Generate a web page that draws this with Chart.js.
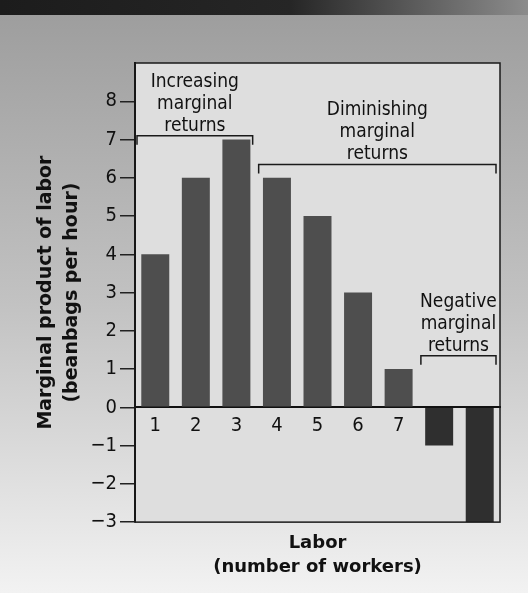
<!DOCTYPE html>
<html>
<head>
<meta charset="utf-8">
<script src="https://cdn.jsdelivr.net/npm/chart.js@4.4.1/dist/chart.umd.min.js"></script>
<style>
html, body { margin: 0; padding: 0; background: #fff; }
#wrap { width: 528px; height: 593px; position: relative; }
</style>
</head>
<body>
<div id="wrap"><canvas id="mplChart"></canvas></div>
<script>
// data
const workers = ['1', '2', '3', '4', '5', '6', '7', '', '']
const marginalProduct = [4, 6, 7, 6, 5, 3, 1, -1, -3]
const yTicks = [-3, -2, -1, 0, 1, 2, 3, 4, 5, 6, 7, 8]

// bracketed groups: text lines, first/last worker index, bracket height (beanbags)
const groupText = [
  ['Increasing', 'marginal', 'returns'],
  ['Diminishing', 'marginal', 'returns'],
  ['Negative', 'marginal', 'returns']
]
const groupFirst = [0, 3, 7]
const groupLast = [2, 8, 8]
const groupLevel = [7.1, 6.35, 1.35]

const narrow = "'Liberation Sans Narrow', 'DejaVu Sans Condensed', 'Liberation Sans', sans-serif"
const bold = "'DejaVu Sans', Verdana, sans-serif"

const backdrop = {
  id: 'backdrop',
  beforeDraw(chart) {
    const { ctx, width, height, chartArea: a } = chart
    ctx.save()
    const g = ctx.createLinearGradient(0, 15, 0, height)
    g.addColorStop(0, '#9e9e9e')
    g.addColorStop(0.5, '#c2c2c2')
    g.addColorStop(1, '#f2f2f2')
    ctx.fillStyle = g
    ctx.fillRect(0, 0, width, height)
    // dark banner strip at the top
    const b = ctx.createLinearGradient(0, 0, width, 0)
    b.addColorStop(0, '#1c1c1c')
    b.addColorStop(0.55, '#262626')
    b.addColorStop(1, '#8c8c8c')
    ctx.fillStyle = b
    ctx.fillRect(0, 0, width, 15)
    ctx.fillStyle = '#dedede'
    ctx.fillRect(a.left, a.top, a.right - a.left, a.bottom - a.top)
    ctx.restore()
  },
  afterDraw(chart) {
    const { ctx, chartArea: a } = chart
    ctx.save()
    ctx.strokeStyle = '#1a1a1a'
    ctx.lineWidth = 1.5
    ctx.strokeRect(a.left, a.top, a.right - a.left, a.bottom - a.top)
    ctx.restore()
  }
}

const brackets = {
  id: 'brackets',
  afterDatasetsDraw(chart) {
    const { ctx } = chart
    const x = chart.scales.x, y = chart.scales.y
    const half = (x.getPixelForValue(1) - x.getPixelForValue(0)) / 2
    ctx.save()
    ctx.strokeStyle = '#1a1a1a'
    ctx.lineWidth = 1.5
    ctx.fillStyle = '#111'
    ctx.font = '19px ' + narrow
    ctx.textAlign = 'center'
    ctx.textBaseline = 'alphabetic'
    groupText.forEach((lines, i) => {
      const x0 = x.getPixelForValue(groupFirst[i]) - half + 2
      const x1 = x.getPixelForValue(groupLast[i]) + half - 4
      const yy = y.getPixelForValue(groupLevel[i])
      ctx.beginPath()
      ctx.moveTo(x0, yy + 9)
      ctx.lineTo(x0, yy)
      ctx.lineTo(x1, yy)
      ctx.lineTo(x1, yy + 9)
      ctx.stroke()
      const cx = (x0 + x1) / 2
      lines.forEach((t, k) => {
        ctx.fillText(t, cx, yy - 5 - (lines.length - 1 - k) * 22)
      })
    })
    ctx.restore()
  }
}

new Chart(document.getElementById('mplChart'), {
  type: 'bar',
  data: {
    labels: workers,
    datasets: [{
      data: marginalProduct,
      backgroundColor: marginalProduct.map(v => v < 0 ? '#2f2f2f' : '#4e4e4e'),
      borderWidth: 0,
      categoryPercentage: 1,
      barPercentage: 0.69
    }]
  },
  options: {
    responsive: true, maintainAspectRatio: false,
    animation: false,
    layout: { padding: { top: 63, right: 28, bottom: 14, left: 0 } },
    plugins: {
      legend: { display: false },
      tooltip: { enabled: false },
      title: {
        display: true,
        position: 'bottom',
        fullSize: false,
        text: ['Labor', '(number of workers)'],
        color: '#111',
        font: { family: bold, size: 18, weight: 'bold', lineHeight: 1.33 },
        padding: { top: 9, bottom: 0 }
      }
    },
    scales: {
      x: {
        position: { y: 0 },
        grid: { drawOnChartArea: false, drawTicks: false },
        border: { display: true, color: '#111', width: 2 },
        ticks: { color: '#111', padding: 6, maxRotation: 0, font: { family: narrow, size: 20 } }
      },
      y: {
        min: -3, max: 9,
        afterBuildTicks: s => { s.ticks = yTicks.map(v => ({ value: v })) },
        afterFit: s => { s.width = 135 },
        grid: { drawOnChartArea: false, drawTicks: true, tickLength: 15, color: '#222', lineWidth: 1.5 },
        border: { display: true, color: '#111', width: 2 },
        ticks: {
          color: '#111', padding: 3,
          font: { family: narrow, size: 20 },
          callback: v => v < 0 ? '\u2212' + Math.abs(v) : String(v)
        },
        title: {
          display: true,
          text: ['Marginal product of labor', '(beanbags per hour)'],
          color: '#111',
          font: { family: bold, size: 19, weight: 'bold', lineHeight: 1.37 },
          padding: { top: 33 }
        }
      }
    }
  },
  plugins: [backdrop, brackets]
})
</script>
</body>
</html>
